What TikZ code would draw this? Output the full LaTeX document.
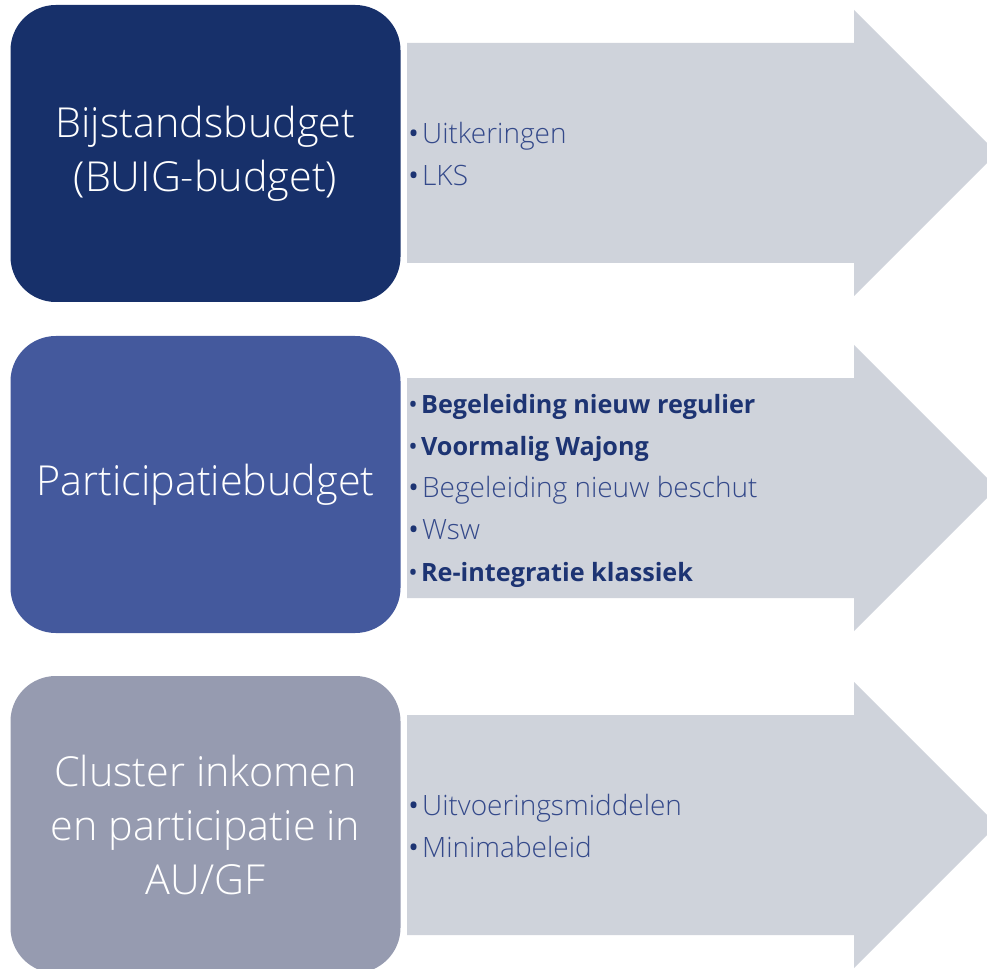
\documentclass[tikz,border=0pt]{standalone}
\usepackage{fontspec}
\setmainfont{Open Sans}[UprightFont=* Light, BoldFont=* Bold]
\newfontfamily\bulletfont{Open Sans}
\definecolor{boxA}{HTML}{17306A}
\definecolor{boxB}{HTML}{44599D}
\definecolor{boxC}{HTML}{969BB0}
\definecolor{arrfill}{HTML}{CFD3DB}
\definecolor{txtL}{HTML}{34498A}
\definecolor{txtB}{HTML}{1D3473}
\newcommand{\blt}{{\bulletfont\color{txtB}\textbullet}\hspace{2.5pt}}
\newcommand{\itemL}[1]{{\color{txtL}\fontsize{21}{31.5}\selectfont\blt #1}}
\newcommand{\itemB}[1]{{\color{txtB}\fontsize{18.9}{31.5}\selectfont\blt\bfseries #1}}
\tikzset{
  bigbox/.style={rounded corners=34pt, minimum width=292.5pt, minimum height=222.75pt,
    text=white, align=center, font=\fontsize{31}{40.5}\selectfont, inner sep=0pt},
  arrowshape/.style={fill=arrfill},
  itemlist/.style={anchor=west, align=left, inner sep=0pt, font=\fontsize{21}{31.5}\selectfont}
}
\begin{document}
\begin{tikzpicture}[x=0.75pt,y=-0.75pt]
\useasboundingbox (0,0) rectangle (987,969);
\clip (0,0) rectangle (987,969);
% arrows
\foreach \c in {153,488,825}{
  \fill[arrowshape] (407,\c-110) -- (854,\c-110) -- (854,\c-143) -- (997,\c) -- (854,\c+143) -- (854,\c+110) -- (407,\c+110) -- cycle;
}
% boxes
\node[bigbox, fill=boxA] (b1) at (205.5,153.5) {Bijstandsbudget\\(BUIG-budget)};
\node[bigbox, fill=boxB] (b2) at (205.5,484.5) {Participatiebudget};
\node[bigbox, fill=boxC] (b3) at (205.5,824.5) {Cluster inkomen\\en participatie in\\AU/GF};
% lists
\node[itemlist] (l1) at (408,154) {\itemL{Uitkeringen}\\\itemL{LKS}};
\node[itemlist] (l2) at (408,491) {\itemB{Begeleiding nieuw regulier}\\\itemB{Voormalig Wajong}\\\itemL{Begeleiding nieuw beschut}\\\itemL{Wsw}\\\itemB{Re-integratie klassiek}};
\node[itemlist] (l3) at (408,826) {\itemL{Uitvoeringsmiddelen}\\\itemL{Minimabeleid}};
\end{tikzpicture}
\end{document}
